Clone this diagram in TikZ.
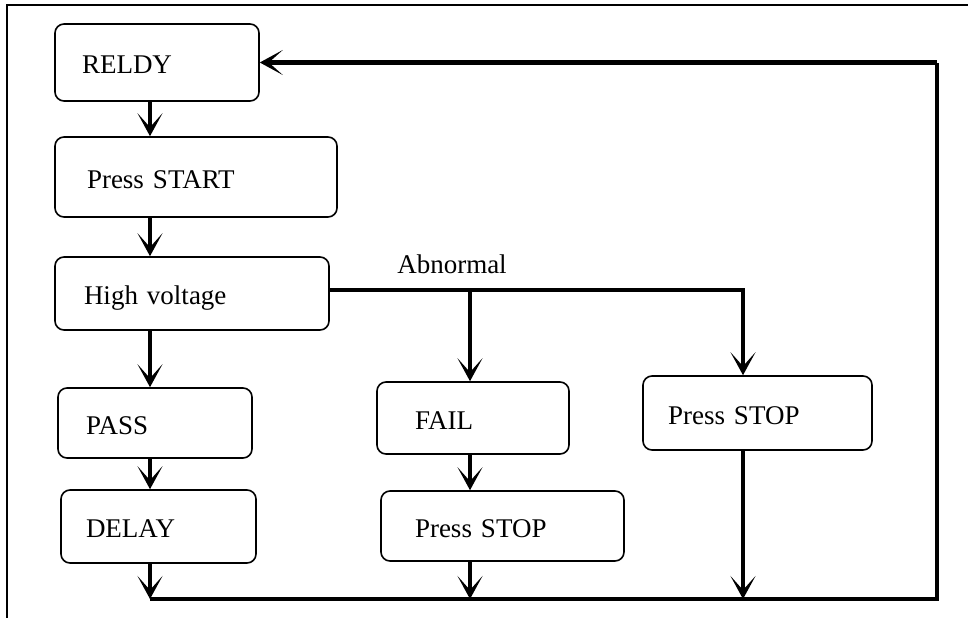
\documentclass[tikz,border=0pt]{standalone}
\usepackage{fontspec}
\setmainfont{Liberation Serif}
\usetikzlibrary{arrows.meta,calc,positioning}

\tikzset{
  stage/.style={draw, rounded corners=9pt, line width=1.6pt, align=left,
    font=\fontsize{27pt}{32pt}\selectfont, text height=22pt, text depth=0pt, inner ysep=0pt},
  flow/.style={line width=3.5pt, -{Stealth[length=23pt, width=25pt, inset=14pt]}},
  wire/.style={line width=4.5pt}
}

\begin{document}
\begin{tikzpicture}[x=1pt, y=-1pt]
    \useasboundingbox (0,0) rectangle (968,618);
    % frame
    \draw[line width=1.5pt] (968,5) -- (7,5) -- (7,618);

    % left column
    \node[stage, minimum height=77pt, text width=150pt, inner xsep=27pt] (reldy) at (157,62.5) {RELDY};
    \node[stage, minimum height=80pt, text width=218pt, inner xsep=32pt] (start) at (196,177) {Press START};
    \node[stage, minimum height=73pt, text width=216pt, inner xsep=29pt] (hv) at (192,293.5) {High voltage};
    \node[stage, minimum height=70pt, text width=138pt, inner xsep=28pt] (pass) at (155,423) {PASS};
    \node[stage, minimum height=73pt, text width=145pt, inner xsep=25pt] (delay) at (158.5,526.5) {DELAY};
    % abnormal branches
    \node[stage, minimum height=72pt, text width=116pt, inner xsep=38pt] (fail) at (473,418) {FAIL};
    \node[stage, minimum height=70pt, text width=175pt, inner xsep=34pt] (stopm) at (502.5,526) {Press STOP};
    \node[stage, minimum height=74pt, text width=179pt, inner xsep=25pt] (stopr) at (757.5,413) {Press STOP};
    \node[font=\fontsize{27pt}{32pt}\selectfont, inner sep=0pt] (abn) at (452,264) {Abnormal};

    \coordinate (colA) at (150,0);
    \coordinate (fork) at (470,290);
    \coordinate (colC) at (743,0);
    \coordinate (bl) at (150,599);
    \coordinate (br) at (937,599);

    \draw[flow] (reldy.south -| colA) -- (start.north -| colA);
    \draw[flow] (start.south -| colA) -- (hv.north -| colA);
    \draw[flow] (hv.south -| colA) -- (pass.north -| colA);
    \draw[flow] (pass.south -| colA) -- (delay.north -| colA);
    \draw[flow] (delay.south -| colA) -- (bl);

    \draw[flow] (hv.east |- fork) -- (fork -| colC) -- (stopr.north -| colC);
    \draw[flow] (fork) -- (fail.north -| fork);
    \draw[flow] (fail.south -| fork) -- (stopm.north -| fork);
    \draw[flow] (stopm.south -| fork) -- (bl -| fork);
    \draw[flow] (stopr.south -| colC) -- (bl -| colC);

    % back to start
    \draw[wire] (bl) -- (br) -- (reldy.east -| br);
    \draw[flow, line width=4.5pt] (reldy.east -| br) -- (reldy.east);
\end{tikzpicture}
\end{document}
